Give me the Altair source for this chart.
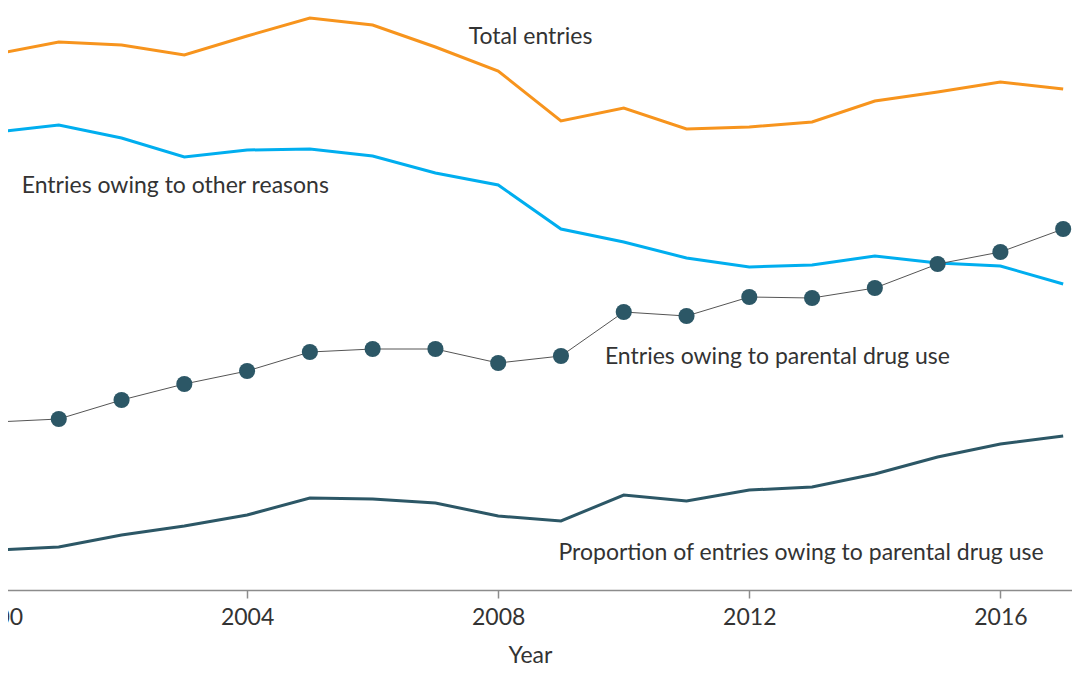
import altair as alt
import pandas as pd

years = list(range(2000, 2018))

# Values (relative units of a shared, hidden y scale)
total_entries = [536, 548, 545, 535, 554, 572, 565, 543, 519, 469, 482, 461, 463, 468, 489, 498, 508, 501]
other_reasons = [458, 465, 452, 433, 440, 441, 434, 417, 405, 361, 348, 332, 323, 325, 334, 327, 324, 306]
drug_use = [168, 171, 190, 206, 219, 238, 241, 241, 227, 234, 278, 274, 293, 292, 302, 326, 338, 361]
proportion_drug = [40, 43, 55, 64, 75, 92, 91, 87, 74, 69, 95, 89, 100, 103, 116, 133, 146, 154]

label_texts = ["Total entries", "Entries owing to other reasons",
               "Entries owing to parental drug use",
               "Proportion of entries owing to parental drug use"]
label_years = [2007.53, 2000.41, 2009.70, 2008.96]
label_values = [546, 397, 226, 30]

tick_years = [2000, 2004, 2008, 2012, 2016]

df = pd.DataFrame({
    "Year": years,
    "total": total_entries,
    "other": other_reasons,
    "drug": drug_use,
    "prop": proportion_drug,
})
labels = pd.DataFrame({"text": label_texts, "Year": label_years, "v": label_values})

FONT = "Lato"
xscale = alt.Scale(domain=[2000, 2017.3], nice=False, zero=False)
yscale = alt.Scale(domain=[0, 582], nice=False, zero=False)

xaxis = alt.Axis(values=tick_years, format="d", title="Year", grid=False,
                 labelFlush=False, labelOverlap=False,
                 domainColor="#8c8c8c", domainWidth=1.5, tickColor="#8c8c8c",
                 tickWidth=1.5, tickSize=8, labelFont=FONT, labelFontSize=23,
                 labelColor="#333333", labelPadding=8, titleFont=FONT,
                 titleFontSize=23, titleFontWeight="normal", titleColor="#333333",
                 titlePadding=15, titleX=534)

base = alt.Chart(df)

x = alt.X("Year:Q", scale=xscale, axis=xaxis)

def yenc(field):
    return alt.Y(f"{field}:Q", scale=yscale, axis=None)

total_line = base.mark_line(color="#F7941D", strokeWidth=3).encode(x=x, y=yenc("total"))
other_line = base.mark_line(color="#00AEEF", strokeWidth=3).encode(x=x, y=yenc("other"))
drug_line = base.mark_line(color="#555555", strokeWidth=1).encode(x=x, y=yenc("drug"))
drug_pts = base.mark_circle(color="#2C5766", size=260, opacity=1).encode(x=x, y=yenc("drug"))
prop_line = base.mark_line(color="#2C5766", strokeWidth=3).encode(x=x, y=yenc("prop"))

text = alt.Chart(labels).mark_text(align="left", baseline="alphabetic", font=FONT,
                                   fontSize=23, color="#333333").encode(
    x=alt.X("Year:Q", scale=xscale, axis=xaxis),
    y=alt.Y("v:Q", scale=yscale, axis=None),
    text="text:N",
)

chart = alt.layer(total_line, other_line, drug_line, drug_pts, prop_line, text).properties(
    width=1086, height=582,
    background="white",
    autosize=alt.AutoSizeParams(type="none"),
    padding={"left": -12, "top": 0, "right": -10, "bottom": 77},
).configure_view(strokeWidth=0)

chart.save("out.html", embed_options={"renderer": "svg", "actions": False})
